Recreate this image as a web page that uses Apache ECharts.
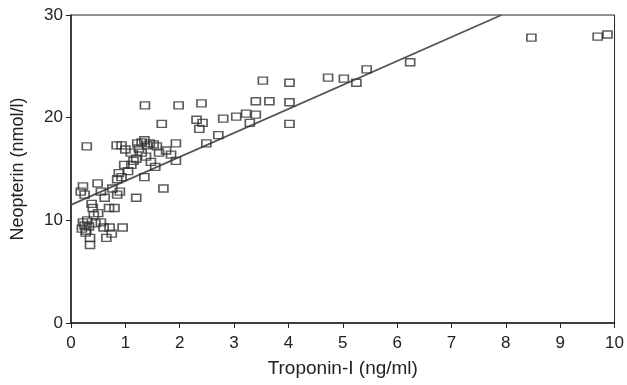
<!DOCTYPE html>
<html><head><meta charset="utf-8">
<script src="https://cdn.jsdelivr.net/npm/echarts@6/dist/echarts.min.js"></script>
<style>html,body{margin:0;padding:0;background:#fff}#c{width:627px;height:385px}</style>
</head><body><div id="c"></div>
<script>
var xTicks = [0,1,2,3,4,5,6,7,8,9,10];
var yTicks = [0,10,20,30];
var troponin = [0.20,0.22,0.25,0.28,0.30,0.27,0.33,0.35,0.35,0.40,0.42,0.45,0.55,0.60,0.65,0.71,0.75,0.95,0.70,0.80,0.62,0.18,0.22,0.25,0.49,0.55,0.76,0.85,0.90,0.29,0.84,0.93,0.93,0.98,1.11,0.85,0.88,0.50,0.38,
  1.20,1.22,1.30,1.35,1.40,1.45,1.52,1.58,1.25,1.30,1.38,1.62,1.93,1.47,1.55,1.84,1.93,1.35,1.70,1.36,1.98,1.67,1.20,1.75,1.15,1.05,1.10,1.00,
  2.40,2.31,2.42,2.36,2.49,2.71,2.80,3.04,3.22,3.40,3.29,3.40,3.65,3.53,4.02,4.02,4.02,4.73,5.02,5.25,5.44,6.24,8.47,9.69,9.87];
var neopterin = [9.2,9.8,9.5,9.0,10.0,8.8,9.4,8.3,7.6,11.2,10.5,9.7,9.8,9.3,8.3,9.3,8.7,9.3,11.2,11.2,12.2,12.8,13.3,12.5,13.6,12.8,13.1,12.5,12.8,17.2,17.3,17.3,14.2,15.4,15.4,14.0,14.6,10.7,11.6,
  12.2,17.5,17.6,17.8,17.3,17.5,17.4,17.2,17.0,16.6,16.2,16.6,17.5,15.7,15.2,16.4,15.8,14.2,13.1,21.2,21.2,19.4,16.0,16.8,15.8,14.8,16.6,16.9,
  21.4,19.8,19.5,18.9,17.5,18.3,19.9,20.1,20.4,20.3,19.5,21.6,21.6,23.6,23.4,21.5,19.4,23.9,23.8,23.4,24.7,25.4,27.8,27.9,28.1];
var fitX = [0, 7.92];
var fitY = [11.5, 30];

var pts = troponin.map(function(x,i){return [x, neopterin[i]];});
var fit = fitX.map(function(x,i){return [x, fitY[i]];});
var ff = 'Liberation Sans, Arial, sans-serif';
var lab = {color:'#222', fontFamily:ff, fontSize:17};
var chart = echarts.init(document.getElementById('c'), null, {renderer:'canvas'});
chart.setOption({
  animation:false,
  grid:{left:71, right:6, top:15, bottom:62, show:true, borderColor:'#222', borderWidth:1},
  xAxis:{type:'value', min:xTicks[0], max:xTicks[xTicks.length-1], interval:1,
    name:'Troponin-I (ng/ml)', nameLocation:'middle', nameGap:36,
    nameTextStyle:{color:'#222', fontFamily:ff, fontSize:19},
    axisLine:{lineStyle:{color:'#222', width:1.5}}, axisTick:{show:true, length:5, lineStyle:{color:'#222'}},
    axisLabel:Object.assign({margin:12}, lab), splitLine:{show:false}},
  yAxis:{type:'value', min:yTicks[0], max:yTicks[yTicks.length-1], interval:10,
    name:'Neopterin (nmol/l)', nameLocation:'middle', nameGap:44,
    nameTextStyle:{color:'#222', fontFamily:ff, fontSize:18},
    axisLine:{show:true, lineStyle:{color:'#222', width:1.5}}, axisTick:{show:true, length:5, lineStyle:{color:'#222'}},
    axisLabel:Object.assign({margin:8}, lab), splitLine:{show:false}},
  series:[
    {type:'line', data:fit, symbol:'none', lineStyle:{color:'#555', width:1.8}, z:1},
    {type:'scatter', data:pts, symbol:'rect', symbolSize:[9,7],
      itemStyle:{color:'rgba(255,255,255,0)', borderColor:'#333', borderWidth:1.5}, z:2}
  ]
});
</script></body></html>
